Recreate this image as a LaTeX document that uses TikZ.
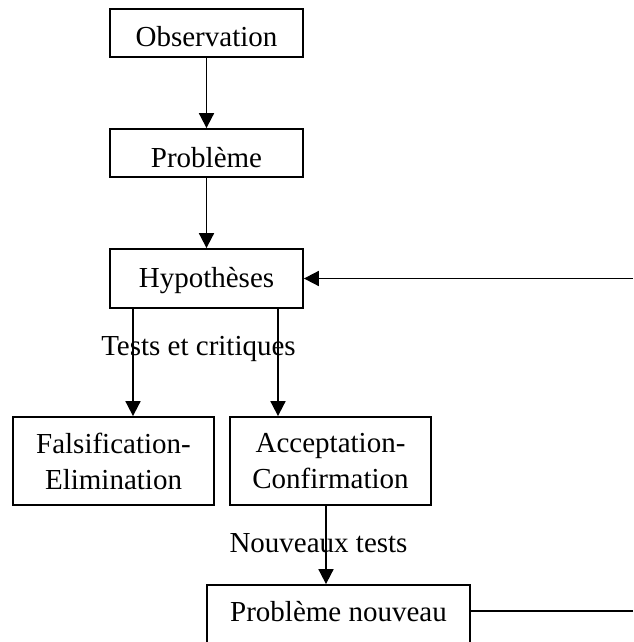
\documentclass[tikz,border=0pt]{standalone}
\usepackage{fontspec}
\setmainfont{Liberation Serif}
\usetikzlibrary{arrows.meta}
\begin{document}
\begin{tikzpicture}[x=1pt,y=-1pt,
  box/.style={draw, line width=1.8pt, rectangle, inner sep=0pt, align=center,
    font=\fontsize{29}{36}\selectfont},
  lbl/.style={inner sep=0pt, font=\fontsize{29}{36}\selectfont},
  arr/.style={line width=1.8pt, -{Triangle[length=15pt,width=15pt]}},
  ln/.style={line width=1.8pt}]
\useasboundingbox (0,0) rectangle (633,642);
\clip (0,0) rectangle (633,642);
\node[box, minimum width=193pt, minimum height=48pt, text height=34pt, text depth=6pt] (obs) at (206.5,33) {Observation};
\node[box, minimum width=193pt, minimum height=48pt, text height=34pt, text depth=6pt] (prob) at (206.5,153) {Problème};
\node[box, minimum width=193pt, minimum height=59pt, text height=23pt, text depth=6pt] (hyp) at (206.5,278.5) {Hypothèses};
\node[box, minimum width=201pt, minimum height=88pt] (fals) at (113.5,461) {Falsification-\\Elimination};
\node[box, minimum width=201pt, minimum height=88pt] (acc) at (330.5,461) {Acceptation-\\Confirmation};
\node[box, minimum width=263pt, minimum height=75pt, text height=20pt, text depth=23pt] (pn) at (338.5,622.5) {Problème nouveau};
\node[lbl] (tc) at (198.5,349) {Tests et critiques};
\node[lbl] (nt) at (318.5,543) {Nouveaux tests};
\coordinate (r1) at (633,278.5);
\coordinate (r2) at (633,611);
\draw[arr] (obs.south) -- (prob.north);
\draw[arr] (prob.south) -- (hyp.north);
\draw[arr] ([xshift=-73.5pt]hyp.south) -- ([xshift=-73.5pt]hyp.south |- fals.north);
\draw[arr] ([xshift=71.5pt]hyp.south) -- ([xshift=71.5pt]hyp.south |- acc.north);
\draw[arr] ([xshift=-4.5pt]acc.south) -- ([xshift=-4.5pt]acc.south |- pn.north);
\draw[arr] (r1) -- (hyp.east);
\draw[ln] (r2) -- (r2 -| pn.east);
\end{tikzpicture}
\end{document}
